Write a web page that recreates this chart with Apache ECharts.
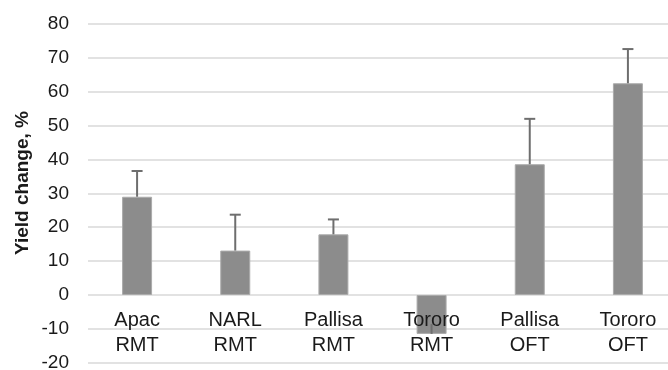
<!DOCTYPE html>
<html>
<head>
<meta charset="utf-8">
<script src="https://cdn.jsdelivr.net/npm/echarts@6/dist/echarts.min.js"></script>
<style>
html,body{margin:0;padding:0;background:#fff;}
#main{width:668px;height:370px;}
</style>
</head>
<body>
<div id="main"></div>
<script>
var categories = ['Apac\nRMT', 'NARL\nRMT', 'Pallisa\nRMT', 'Tororo\nRMT', 'Pallisa\nOFT', 'Tororo\nOFT'];
var yieldChange = [29.0, 13.1, 17.9, -11.5, 38.6, 62.5];
var errorEnd = [36.6, 23.7, 22.3, -8.6, 52.0, 72.6];
var errorCap = [1, 1, 1, 0, 1, 1];
var yTicks = { min: -20, max: 80, interval: 10 };
var yTitle = 'Yield change, %';

var errData = yieldChange.map(function (v, i) { return [i, v, errorEnd[i], errorCap[i]]; });

var chart = echarts.init(document.getElementById('main'), null, { renderer: 'canvas' });
var font = 'Liberation Sans, Arial, Helvetica, sans-serif';
var gridTop = 24, gridHeight = 338.7;
// offset so the category axis sits on the zero line
var zeroOffset = -gridHeight * (0 - yTicks.min) / (yTicks.max - yTicks.min);
chart.setOption({
  animation: false,
  backgroundColor: '#ffffff',
  grid: { left: 88, top: gridTop, width: 589, height: gridHeight, containLabel: false, outerBoundsMode: 'none' },
  xAxis: {
    type: 'category',
    data: categories,
    z: 10,
    offset: zeroOffset,
    axisLine: { show: false, onZero: false },
    axisTick: { show: false },
    splitLine: { show: false },
    axisLabel: {
      interval: 0, margin: 13, fontSize: 20, lineHeight: 25,
      color: '#1a1a1a', fontFamily: font
    }
  },
  yAxis: {
    type: 'value',
    min: yTicks.min, max: yTicks.max, interval: yTicks.interval,
    axisLine: { show: false },
    axisTick: { show: false },
    splitLine: { show: true, lineStyle: { color: '#d9d9d9', width: 1.5 } },
    axisLabel: { margin: 19, fontSize: 19, color: '#1a1a1a', fontFamily: font }
  },
  graphic: [{
    type: 'text',
    x: 23, y: 183,
    rotation: Math.PI / 2,
    style: {
      text: yTitle, fontSize: 19, fontWeight: 'bold', fontFamily: font,
      fill: '#1a1a1a', align: 'center', verticalAlign: 'middle'
    }
  }],
  series: [{
    type: 'bar',
    data: yieldChange,
    barWidth: 30,
    itemStyle: { color: '#8c8c8c', borderColor: '#ababab', borderWidth: 1 },
    z: 2
  }, {
    type: 'custom',
    data: errData,
    z: 3,
    renderItem: function (params, api) {
      var x = api.value(0);
      var p1 = api.coord([x, api.value(1)]);
      var p2 = api.coord([x, api.value(2)]);
      var children = [{
        type: 'line',
        shape: { x1: p1[0], y1: p1[1], x2: p2[0], y2: p2[1] },
        style: { stroke: '#6e6e6e', lineWidth: 2 }
      }];
      if (api.value(3)) {
        children.push({
          type: 'line',
          shape: { x1: p2[0] - 5.5, y1: p2[1], x2: p2[0] + 5.5, y2: p2[1] },
          style: { stroke: '#6e6e6e', lineWidth: 2 }
        });
      }
      return { type: 'group', children: children };
    }
  }]
});
</script>
</body>
</html>
